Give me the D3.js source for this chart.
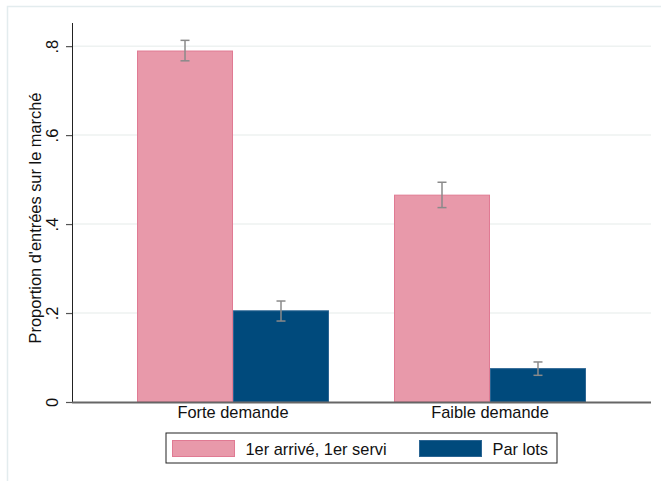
<!DOCTYPE html>
<html>
<head>
<meta charset="utf-8">
<script src="https://cdn.jsdelivr.net/npm/d3@7"></script>
<style>
  html, body { margin: 0; padding: 0; background: #ffffff; }
  svg { display: block; font-family: Arial, "Liberation Sans", Helvetica, sans-serif; }
</style>
</head>
<body>
<svg id="chart" width="661" height="481"></svg>
<script>
// Market-entry proportions by demand level and allocation rule
const categories = ["Forte demande", "Faible demande"];
const seriesNames = ["1er arrivé, 1er servi", "Par lots"];
const fcfsValues = [0.789, 0.465];
const lotsValues = [0.205, 0.075];
const fcfsLow = [0.767, 0.437];
const fcfsHigh = [0.813, 0.494];
const lotsLow = [0.182, 0.060];
const lotsHigh = [0.227, 0.090];
const yTicks = [0, 0.2, 0.4, 0.6, 0.8];
const yTickLabels = ["0", ".2", ".4", ".6", ".8"];
const yTitle = "Proportion d'entrées sur le marché";

const colors = { fill: ["#e899aa", "#004a7c"], stroke: ["#e07a93", "#2b6593"] };
const fontSize = 16.4;

const series = [
  { name: seriesNames[0], values: fcfsValues, lo: fcfsLow, hi: fcfsHigh },
  { name: seriesNames[1], values: lotsValues, lo: lotsLow, hi: lotsHigh }
];

const svg = d3.select("#chart");
const plot = { left: 72, right: 651, top: 23, bottom: 402 };

// Outer frame of the graph region
svg.append("rect")
  .attr("x", 7.5).attr("y", 6.5)
  .attr("width", 700).attr("height", 520)
  .attr("fill", "#ffffff")
  .attr("stroke", "#e3ecee").attr("stroke-width", 1.5);

const y = d3.scaleLinear().domain([0, 0.852]).range([plot.bottom, plot.top]);
const x0 = d3.scaleBand().domain(categories).range([plot.left, plot.right]).padding(0.253);
const x1 = d3.scaleBand().domain(seriesNames).range([0, x0.bandwidth()]);

// Horizontal grid lines
svg.append("g").selectAll("line")
  .data(yTicks.filter(d => d > 0))
  .join("line")
  .attr("x1", plot.left).attr("x2", plot.right)
  .attr("y1", d => y(d)).attr("y2", d => y(d))
  .attr("stroke", "#eef2f1").attr("stroke-width", 1.5);

// Bars
const groups = svg.append("g").selectAll("g")
  .data(categories)
  .join("g")
  .attr("transform", d => `translate(${x0(d)},0)`);

series.forEach((s, si) => {
  groups.append("rect")
    .attr("x", x1(s.name) + 0.5)
    .attr("y", (d, i) => y(s.values[i]))
    .attr("width", x1.bandwidth() - 1)
    .attr("height", (d, i) => y(0) - y(s.values[i]))
    .attr("fill", colors.fill[si])
    .attr("stroke", colors.stroke[si])
    .attr("stroke-width", 1);
});

// Confidence intervals
series.forEach((s) => {
  const cx = x1(s.name) + x1.bandwidth() / 2;
  const cap = 4.5;
  const eb = groups.append("g").attr("stroke", "#8a8a8a").attr("stroke-width", 1.5).attr("fill", "none");
  eb.append("line")
    .attr("x1", cx).attr("x2", cx)
    .attr("y1", (d, i) => y(s.hi[i])).attr("y2", (d, i) => y(s.lo[i]));
  eb.append("line")
    .attr("x1", cx - cap).attr("x2", cx + cap)
    .attr("y1", (d, i) => y(s.hi[i])).attr("y2", (d, i) => y(s.hi[i]));
  eb.append("line")
    .attr("x1", cx - cap).attr("x2", cx + cap)
    .attr("y1", (d, i) => y(s.lo[i])).attr("y2", (d, i) => y(s.lo[i]));
});

// Y axis
const yAxis = svg.append("g")
  .attr("transform", `translate(${plot.left},0)`)
  .call(d3.axisLeft(y).tickValues(yTicks).tickSize(6).tickPadding(0)
    .tickFormat((d, i) => yTickLabels[i]));
yAxis.select(".domain").attr("d", `M0.5,${plot.top}V${plot.bottom}`).attr("stroke", "#222").attr("stroke-width", 1);
yAxis.selectAll(".tick line").attr("stroke", "#555").attr("stroke-width", 1.2);
yAxis.selectAll(".tick text")
  .attr("x", 0).attr("y", 0)
  .attr("transform", "translate(-14,0) rotate(-90)")
  .attr("text-anchor", "middle")
  .attr("dy", "0")
  .attr("font-size", fontSize)
  .attr("font-family", "Arial, 'Liberation Sans', sans-serif")
  .attr("fill", "#111");

// X axis
const xAxis = svg.append("g")
  .attr("transform", `translate(0,${plot.bottom})`)
  .call(d3.axisBottom(x0).tickSize(0).tickPadding(0));
xAxis.select(".domain").attr("d", `M${plot.left},0.5H${plot.right}`).attr("stroke", "#666").attr("stroke-width", 1.8);
xAxis.selectAll(".tick text")
  .attr("y", 16).attr("dy", 0)
  .attr("font-size", fontSize)
  .attr("font-family", "Arial, 'Liberation Sans', sans-serif")
  .attr("fill", "#111");

// Y axis title
svg.append("text")
  .attr("transform", `translate(41,218) rotate(-90)`)
  .attr("text-anchor", "middle")
  .attr("font-size", fontSize)
  .attr("fill", "#111")
  .text(yTitle);

// Legend
const legend = svg.append("g");
legend.append("rect")
  .attr("x", 166).attr("y", 433)
  .attr("width", 391).attr("height", 30)
  .attr("fill", "#ffffff").attr("stroke", "#222").attr("stroke-width", 1);
const legendX = [172.5, 419.5];
series.forEach((s, si) => {
  legend.append("rect")
    .attr("x", legendX[si]).attr("y", 440.5)
    .attr("width", 62).attr("height", 16)
    .attr("fill", colors.fill[si])
    .attr("stroke", colors.stroke[si]).attr("stroke-width", 1);
  legend.append("text")
    .attr("x", legendX[si] + 73).attr("y", 455)
    .attr("font-size", fontSize)
    .attr("fill", "#111")
    .text(s.name);
});
</script>
</body>
</html>
